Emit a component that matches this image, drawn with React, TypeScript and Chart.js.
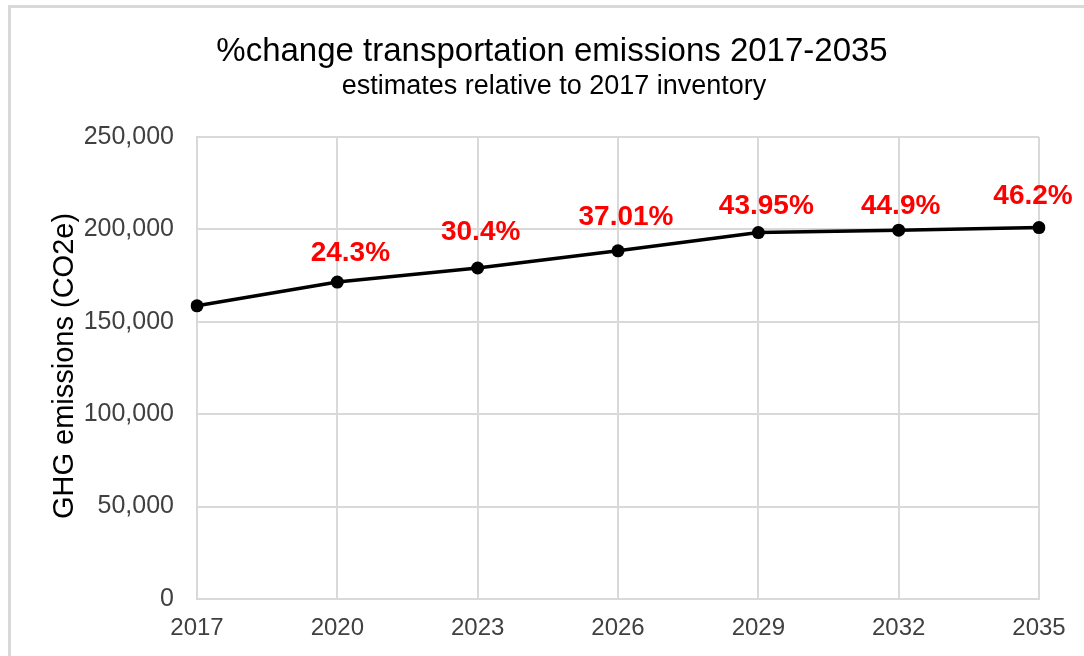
import React, { useEffect, useRef } from "react";
import { Chart, registerables } from "chart.js";

Chart.register(...registerables);

const years = ["2017", "2020", "2023", "2026", "2029", "2032", "2035"];
const emissions = [158650, 171500, 179100, 188400, 198300, 199600, 201000];
const pctLabels = ["", "24.3%", "30.4%", "37.01%", "43.95%", "44.9%", "46.2%"];
const labelDx = [0, 13, 3, 8, 8, 2, -6];
const labelDy = [0, 29, 36, 34, 26, 24, 31];

const titleText = "%change transportation emissions 2017-2035";
const subtitleText = "estimates relative to 2017 inventory";
const yTitleText = "GHG emissions (CO2e)";

const FONT = "'Liberation Sans', Arial, sans-serif";
const GRID = "#d9d9d9";
const TEXT = "#404040";

const decorPlugin = {
  id: "decor",
  beforeDraw(chart: any) {
    const ctx = chart.ctx;
    ctx.save();
    ctx.fillStyle = "#ffffff";
    ctx.fillRect(0, 0, chart.width, chart.height);
    ctx.strokeStyle = GRID;
    ctx.lineWidth = 3;
    ctx.beginPath();
    ctx.moveTo(9.5, chart.height);
    ctx.lineTo(9.5, 6.5);
    ctx.lineTo(chart.width, 6.5);
    ctx.stroke();
    ctx.restore();
  },
  afterDraw(chart: any) {
    const ctx = chart.ctx;
    ctx.save();
    ctx.fillStyle = "#000000";
    ctx.textAlign = "center";
    ctx.textBaseline = "alphabetic";
    ctx.font = `33px ${FONT}`;
    ctx.fillText(titleText, 552, 61);
    ctx.font = `27px ${FONT}`;
    ctx.fillText(subtitleText, 554, 94);
    ctx.save();
    ctx.translate(65, 366);
    ctx.rotate(-Math.PI / 2);
    ctx.font = `29px ${FONT}`;
    ctx.fillStyle = "#000000";
    ctx.textBaseline = "middle";
    ctx.fillText(yTitleText, 0, 0);
    ctx.restore();

    const meta = chart.getDatasetMeta(0);
    ctx.font = `bold 28px ${FONT}`;
    ctx.fillStyle = "#ff0000";
    ctx.textBaseline = "middle";
    meta.data.forEach((pt: any, i: number) => {
      if (!pctLabels[i]) return;
      ctx.fillText(pctLabels[i], pt.x + labelDx[i], pt.y - labelDy[i]);
    });
    ctx.restore();
  },
};

export default function App() {
  const ref = useRef<HTMLCanvasElement>(null);
  useEffect(() => {
    document.body.style.margin = "0";
    const chart = new Chart(ref.current!, {
      type: "line",
      data: {
        labels: years,
        datasets: [
          {
            data: emissions,
            borderColor: "#000000",
            backgroundColor: "#000000",
            borderWidth: 3.5,
            pointRadius: 6.5,
            pointBackgroundColor: "#000000",
            pointBorderWidth: 0,
            tension: 0,
          },
        ],
      },
      options: {
        animation: false,
        responsive: false,
        layout: { padding: { top: 137, right: 45, left: 0, bottom: 0 } },
        plugins: {
          legend: { display: false },
          tooltip: { enabled: false },
          title: { display: false },
        },
        scales: {
          x: {
            offset: false,
            grid: { color: GRID, lineWidth: 2, drawTicks: false },
            border: { color: GRID, width: 2 },
            ticks: {
              color: TEXT,
              font: { family: FONT, size: 24 },
              padding: 15,
              maxRotation: 0,
            },
            afterFit(scale: any) {
              scale.height = 57;
            },
          },
          y: {
            min: 0,
            max: 250000,
            grid: { color: GRID, lineWidth: 2, drawTicks: false },
            border: { color: GRID, width: 2 },
            ticks: {
              stepSize: 50000,
              color: TEXT,
              font: { family: FONT, size: 25 },
              padding: 23,
              callback: (v: any) => Number(v).toLocaleString("en-US"),
            },
            afterFit(scale: any) {
              scale.width = 197;
            },
          },
        },
      },
      plugins: [decorPlugin],
    });
    return () => chart.destroy();
  }, []);
  return <canvas ref={ref} width={1084} height={656} style={{ display: "block" }} />;
}
